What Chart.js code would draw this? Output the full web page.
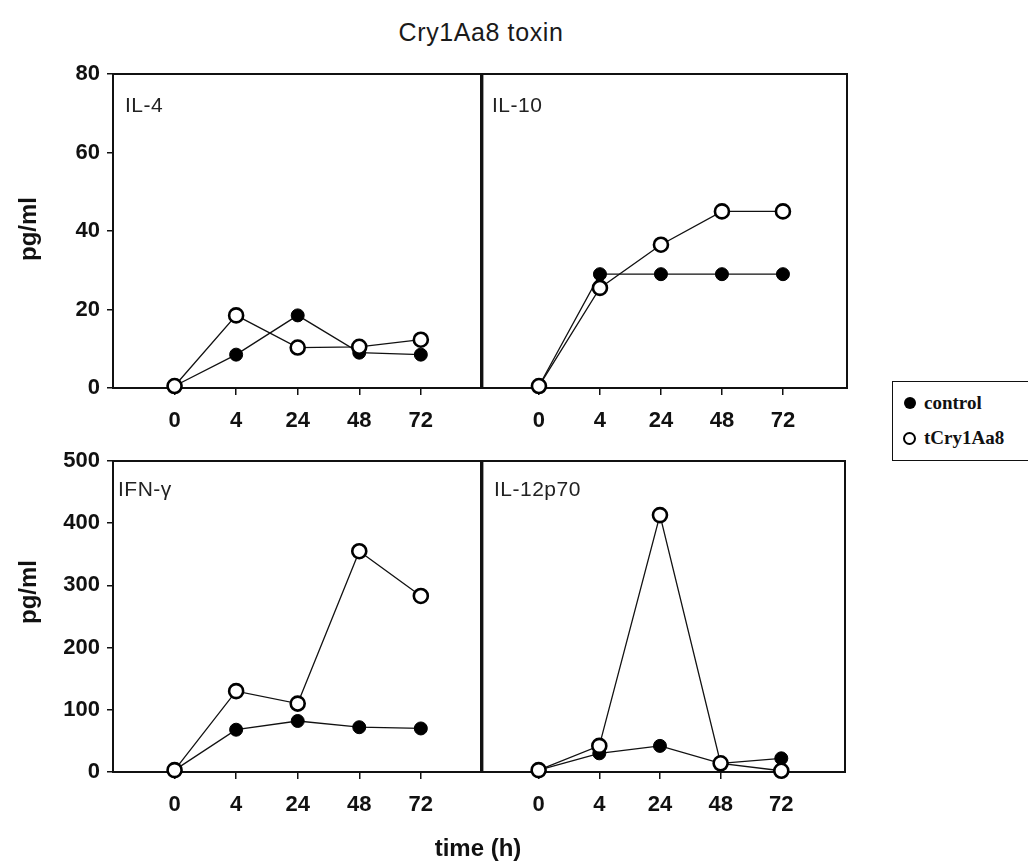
<!DOCTYPE html>
<html>
<head>
<meta charset="utf-8">
<script src="https://cdn.jsdelivr.net/npm/chart.js@4.4.1/dist/chart.umd.min.js"></script>
<style>
  html, body { margin:0; padding:0; background:#fff; }
  body { width:1028px; height:867px; position:relative; overflow:hidden; font-family:'Liberation Sans', Arial, sans-serif; }
  canvas { position:absolute; }
  .txt { position:absolute; white-space:nowrap; color:#1a1a1a; }
  .title { font-size:25px; letter-spacing:0.6px; line-height:25px; }
  .plab { font-size:21px; line-height:21px; letter-spacing:0.5px; color:#222; }
  .axt { font-size:24px; font-weight:bold; line-height:24px; color:#111; }
  .legend { position:absolute; left:892px; top:381px; width:170px; height:80px; border:1.5px solid #111; box-sizing:border-box; background:#fff; }
  .legend .row { position:absolute; left:0; font-family:'Liberation Serif', 'DejaVu Serif', serif; font-weight:bold; font-size:19px; line-height:19px; color:#111; }
  .legend .dot { position:absolute; border-radius:50%; box-sizing:border-box; }
</style>
</head>
<body>
<div class="txt title" style="left:481px; top:20px; transform:translateX(-50%);">Cry1Aa8 toxin</div>

<canvas id="tl" width="492" height="400" style="left:0px; top:60px;"></canvas>
<canvas id="tr" width="390" height="400" style="left:470px; top:60px;"></canvas>
<canvas id="bl" width="492" height="400" style="left:0px; top:447px;"></canvas>
<canvas id="br" width="390" height="400" style="left:470px; top:447px;"></canvas>

<div class="txt plab" style="left:125px; top:94px;">IL-4</div>
<div class="txt plab" style="left:492px; top:94px;">IL-10</div>
<div class="txt plab" style="left:118px; top:478px;">IFN-γ</div>
<div class="txt plab" style="left:494px; top:478px;">IL-12p70</div>

<div class="txt axt" style="left:28px; top:229px; transform:translate(-50%,-50%) rotate(-90deg);">pg/ml</div>
<div class="txt axt" style="left:28px; top:592px; transform:translate(-50%,-50%) rotate(-90deg);">pg/ml</div>
<div class="txt axt" style="left:478px; top:836px; transform:translateX(-50%);">time (h)</div>

<div class="legend">
  <div class="dot" style="left:11px; top:15px; width:12px; height:12px; background:#000;"></div>
  <div class="row" style="left:31px; top:11px;">control</div>
  <div class="dot" style="left:10px; top:50px; width:13px; height:13px; border:2.5px solid #000; background:#fff;"></div>
  <div class="row" style="left:31px; top:46px;">tCry1Aa8</div>
</div>

<script>
// ---- data ----
const timeLabels = ['0', '4', '24', '48', '72'];
const seriesNames = ['control', 'tCry1Aa8'];
const panelNames = ['IL-4', 'IL-10', 'IFN-γ', 'IL-12p70'];

const il4Control   = [0.5, 8.5, 18.5, 9, 8.5];
const il4Cry       = [0.5, 18.5, 10.3, 10.5, 12.3];
const il10Control  = [0.5, 29, 29, 29, 29];
const il10Cry      = [0.5, 25.5, 36.5, 45, 45];
const ifngControl  = [3, 68, 82, 72, 70];
const ifngCry      = [3, 130, 110, 355, 283];
const il12Control  = [3, 30, 42, 14, 22];
const il12Cry      = [3, 42, 413, 14, 2];

const topYTicks    = [0, 20, 40, 60, 80];
const bottomYTicks = [0, 100, 200, 300, 400, 500];

// ---- rendering ----
const INK = '#111';
const tickFont = { family: "'Liberation Sans', Arial, sans-serif", weight: 'bold', size: 22 };

const boxPlugin = {
  id: 'box',
  beforeDatasetsDraw(chart) {
    const { ctx, chartArea: a } = chart;
    ctx.save();
    ctx.strokeStyle = INK;
    ctx.lineWidth = 2;
    ctx.strokeRect(a.left, a.top, a.right - a.left, a.bottom - a.top);
    ctx.restore();
  }
};

function zeroPad(s) {
  s.paddingTop = 0; s.paddingBottom = 0; s.paddingLeft = 0; s.paddingRight = 0;
}

function toPoints(arr) {
  return arr.map((v, i) => ({ x: i + 1, y: v }));
}

function makePanel(id, ctrl, cry, yTicks, cfg) {
  const ctx = document.getElementById(id).getContext('2d');
  const yMax = yTicks[yTicks.length - 1];
  const yStep = yTicks[1] - yTicks[0];
  return new Chart(ctx, {
    type: 'line',
    data: {
      datasets: [
        {
          label: seriesNames[1],
          data: toPoints(cry),
          borderColor: INK,
          borderWidth: 1.3,
          pointStyle: 'circle',
          pointRadius: 7,
          pointBackgroundColor: '#fff',
          pointBorderColor: '#000',
          pointBorderWidth: 2.6,
          clip: false,
          tension: 0
        },
        {
          label: seriesNames[0],
          data: toPoints(ctrl),
          borderColor: INK,
          borderWidth: 1.3,
          pointStyle: 'circle',
          pointRadius: 6.5,
          pointBackgroundColor: '#000',
          pointBorderColor: '#000',
          pointBorderWidth: 1,
          clip: false,
          tension: 0
        }
      ]
    },
    options: {
      responsive: false,
      animation: false,
      devicePixelRatio: 1,
      layout: { padding: cfg.padding },
      plugins: { legend: { display: false }, tooltip: { enabled: false }, title: { display: false } },
      scales: {
        x: {
          type: 'linear',
          min: cfg.xMin,
          max: cfg.xMax,
          afterBuildTicks: (ax) => { ax.ticks = timeLabels.map((_, i) => ({ value: i + 1 })); },
          afterFit: (s) => { s.height = cfg.xHeight; zeroPad(s); },
          ticks: {
            callback: (v, i) => timeLabels[i],
            font: tickFont,
            color: INK,
            padding: 13,
            autoSkip: false,
            maxRotation: 0
          },
          grid: { drawOnChartArea: false, drawTicks: true, tickLength: 7, color: INK, lineWidth: 1.5 },
          border: { display: false }
        },
        y: {
          display: cfg.showY,
          min: 0,
          max: yMax,
          afterBuildTicks: (ax) => { ax.ticks = yTicks.map(v => ({ value: v })); },
          afterFit: (s) => { if (cfg.yWidth) s.width = cfg.yWidth; zeroPad(s); },
          ticks: { stepSize: yStep, font: tickFont, color: INK, padding: 7 },
          grid: { drawOnChartArea: false, drawTicks: true, tickLength: 6, color: INK, lineWidth: 1.5 },
          border: { display: false }
        }
      }
    },
    plugins: [boxPlugin]
  });
}

makePanel('tl', il4Control, il4Cry, topYTicks,
  { padding: { top: 14, right: 1, left: 0, bottom: 0 }, xHeight: 72, yWidth: 113, showY: true, xMin: 0, xMax: 6 });
makePanel('tr', il10Control, il10Cry, topYTicks,
  { padding: { top: 14, right: 13, left: 11, bottom: 0 }, xHeight: 72, showY: false, xMin: 0.05, xMax: 6.05 });
makePanel('bl', ifngControl, ifngCry, bottomYTicks,
  { padding: { top: 14, right: 1, left: 0, bottom: 0 }, xHeight: 75, yWidth: 113, showY: true, xMin: 0, xMax: 6 });
makePanel('br', il12Control, il12Cry, bottomYTicks,
  { padding: { top: 14, right: 15, left: 11, bottom: 0 }, xHeight: 75, showY: false, xMin: 0.05, xMax: 6.05 });
</script>
</body>
</html>
